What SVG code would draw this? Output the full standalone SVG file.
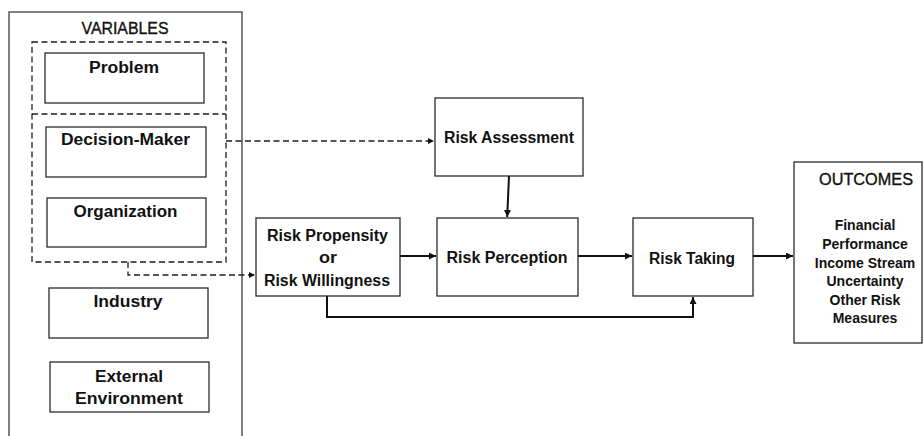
<svg xmlns="http://www.w3.org/2000/svg" width="924" height="436" viewBox="0 0 924 436">
  <style>
    .box { fill: #ffffff; stroke: #2b2b2b; stroke-width: 1.3; }
    .frame { fill: none; stroke: #2b2b2b; stroke-width: 1.2; }
    .dash { fill: none; stroke: #1e1e1e; stroke-width: 1.3; stroke-dasharray: 6 3.5; }
    .link { fill: none; stroke: #111111; stroke-width: 2; }
    .dlink { fill: none; stroke: #1e1e1e; stroke-width: 1.3; stroke-dasharray: 6 3.5; }
    text { font-family: "Liberation Sans", Arial, sans-serif; fill: #111111; text-anchor: middle; }
    .lbl { font-size: 16px; font-weight: bold; }
    .head { font-size: 16px; font-weight: normal; stroke: #111111; stroke-width: 0.35; }
    .item { font-size: 14px; font-weight: bold; }
  </style>
  <defs>
    <marker id="arrow" markerUnits="userSpaceOnUse" markerWidth="8" markerHeight="8" refX="7" refY="3.5" orient="auto">
      <path d="M0,0 L7,3.5 L0,7 z" fill="#111111" stroke="none"/>
    </marker>
    <marker id="arrowSmall" markerUnits="userSpaceOnUse" markerWidth="7" markerHeight="7" refX="6" refY="3" orient="auto">
      <path d="M0,0 L6,3 L0,6 z" fill="#111111" stroke="none"/>
    </marker>
  </defs>

  <!-- Variables column -->
  <g id="variables">
    <rect class="frame" x="9" y="12" width="233" height="432"/>
    <text class="head" x="125" y="34" textLength="87" lengthAdjust="spacingAndGlyphs">VARIABLES</text>
  </g>

  <!-- dashed grouping of problem / decision-maker / organization -->
  <g id="grouping">
    <rect class="dash" x="32" y="42" width="194" height="220"/>
    <line class="dash" x1="32" y1="114" x2="226" y2="114"/>
  </g>

  <g id="problem">
    <rect class="box" x="45" y="53" width="159" height="50"/>
    <text class="lbl" x="124" y="73" textLength="70" lengthAdjust="spacingAndGlyphs">Problem</text>
  </g>

  <g id="decision-maker">
    <rect class="box" x="46" y="127" width="160" height="50"/>
    <text class="lbl" x="125.5" y="145" textLength="129" lengthAdjust="spacingAndGlyphs">Decision-Maker</text>
  </g>

  <g id="organization">
    <rect class="box" x="47" y="198" width="159" height="49"/>
    <text class="lbl" x="125.5" y="217" textLength="104" lengthAdjust="spacingAndGlyphs">Organization</text>
  </g>

  <g id="industry">
    <rect class="box" x="49" y="288" width="159" height="50"/>
    <text class="lbl" x="128" y="307" textLength="69" lengthAdjust="spacingAndGlyphs">Industry</text>
  </g>

  <g id="external-environment">
    <rect class="box" x="50" y="362" width="159" height="50"/>
    <text class="lbl" x="129" y="382" textLength="68" lengthAdjust="spacingAndGlyphs">External</text>
    <text class="lbl" x="129" y="404" textLength="108" lengthAdjust="spacingAndGlyphs">Environment</text>
  </g>

  <!-- Risk process -->
  <g id="risk-assessment">
    <rect class="box" x="435" y="98" width="148" height="78"/>
    <text class="lbl" x="509" y="143" textLength="130" lengthAdjust="spacingAndGlyphs">Risk Assessment</text>
  </g>

  <g id="risk-propensity">
    <rect class="box" x="256" y="218" width="144" height="78"/>
    <text class="lbl" x="327.5" y="241" textLength="121" lengthAdjust="spacingAndGlyphs">Risk Propensity</text>
    <text class="lbl" x="328" y="263" textLength="18" lengthAdjust="spacingAndGlyphs">or</text>
    <text class="lbl" x="327" y="286" textLength="126" lengthAdjust="spacingAndGlyphs">Risk Willingness</text>
  </g>

  <g id="risk-perception">
    <rect class="box" x="437" y="218" width="141" height="78"/>
    <text class="lbl" x="507" y="263" textLength="121" lengthAdjust="spacingAndGlyphs">Risk Perception</text>
  </g>

  <g id="risk-taking">
    <rect class="box" x="633" y="218" width="120" height="78"/>
    <text class="lbl" x="692" y="264" textLength="86" lengthAdjust="spacingAndGlyphs">Risk Taking</text>
  </g>

  <g id="outcomes">
    <rect class="box" x="794" y="162" width="128" height="181"/>
    <text class="head" x="866" y="185" textLength="94" lengthAdjust="spacingAndGlyphs">OUTCOMES</text>
    <text class="item" x="865" y="230">Financial</text>
    <text class="item" x="865" y="249">Performance</text>
    <text class="item" x="865" y="268">Income Stream</text>
    <text class="item" x="865" y="286">Uncertainty</text>
    <text class="item" x="865" y="305">Other Risk</text>
    <text class="item" x="865" y="323">Measures</text>
  </g>

  <!-- Connectors -->
  <g id="connectors">
    <path class="dlink" d="M226,141 H434" marker-end="url(#arrowSmall)"/>
    <path class="dlink" d="M128,262 V275 H255" marker-end="url(#arrowSmall)"/>
    <path class="link" d="M509,176 L507.2,217" marker-end="url(#arrow)"/>
    <path class="link" d="M400,256 H436" marker-end="url(#arrow)"/>
    <path class="link" d="M578,256 H632" marker-end="url(#arrow)"/>
    <path class="link" d="M753,256 H793" marker-end="url(#arrow)"/>
    <path class="link" d="M327,296 V317 H693 V297" marker-end="url(#arrow)"/>
  </g>
</svg>
